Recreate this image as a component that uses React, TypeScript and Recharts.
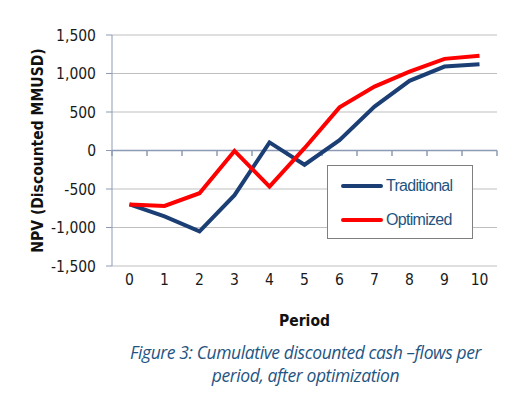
import {
  CartesianGrid,
  Legend,
  Line,
  LineChart,
  ReferenceLine,
  XAxis,
  YAxis,
} from 'recharts';

const periods = [0, 1, 2, 3, 4, 5, 6, 7, 8, 9, 10];
const traditional = [-700, -855, -1050, -580, 105, -185, 135, 570, 905, 1090, 1120];
const optimized = [-700, -720, -555, -5, -470, 30, 560, 830, 1025, 1190, 1230];
const yTicks = [-1500, -1000, -500, 0, 500, 1000, 1500];

const data = periods.map((p, i) => ({
  period: p,
  traditional: traditional[i],
  optimized: optimized[i],
}));

// Excel-style tick marks sit between categories
const boundaries = [...periods.map((p) => p - 0.5), periods[periods.length - 1] + 0.5];

const AXIS = '#8c9bb5';
const NAVY = '#1b3f74';
const RED = '#ff0000';
const TEXT_BLUE = '#1f5582';
const narrow = '"DejaVu Sans Condensed", "DejaVu Sans", sans-serif';

const tickStyle = { fontFamily: narrow, fontSize: 15.5, fill: '#1a1a1a', fontStretch: 'condensed' };
const titleStyle = {
  fontFamily: narrow,
  fontSize: 15.5,
  fontWeight: 'bold',
  fill: '#111',
  fontStretch: 'condensed',
};

const fmt = (v: number) => v.toLocaleString('en-US');

function LegendBox() {
  const items = [
    { name: 'Traditional', color: NAVY },
    { name: 'Optimized', color: RED },
  ];
  return (
    <div
      style={{
        width: 146,
        height: 74,
        background: '#fff',
        border: '1px solid #7f7f7f',
        boxSizing: 'border-box',
        paddingTop: 3,
      }}
    >
      {items.map((it) => (
        <div
          key={it.name}
          style={{ display: 'flex', alignItems: 'center', height: 34, paddingLeft: 13 }}
        >
          <div style={{ width: 42, height: 4, background: it.color, borderRadius: 2 }} />
          <span
            style={{
              marginLeft: 3,
              fontFamily: '"Liberation Sans", Arial, sans-serif',
              fontSize: 16,
              letterSpacing: -0.7,
              color: TEXT_BLUE,
            }}
          >
            {it.name}
          </span>
        </div>
      ))}
    </div>
  );
}

export default function App() {
  return (
    <div
      style={{
        position: 'absolute',
        left: 0,
        top: 0,
        width: 511,
        height: 397,
        background: '#fff',
      }}
    >
      <LineChart
        width={511}
        height={340}
        data={data}
        margin={{ top: 35, right: 14, left: 12, bottom: 8 }}
      >
        <CartesianGrid vertical={false} stroke="#bfbfbf" />
        <XAxis
          dataKey="period"
          type="number"
          domain={[-0.5, 10.5]}
          ticks={periods}
          interval={0}
          axisLine={false}
          tickLine={false}
          tickSize={6}
          tickMargin={2}
          height={66}
          tick={tickStyle}
          label={{
            value: 'Period',
            position: 'insideBottom',
            offset: 6,
            style: titleStyle,
          }}
        />
        <YAxis
          domain={[-1500, 1500]}
          ticks={yTicks}
          interval={0}
          width={100}
          stroke={AXIS}
          tickSize={6}
          tickMargin={10}
          tickFormatter={fmt}
          tick={tickStyle}
          label={{
            value: 'NPV (Discounted  MMUSD)',
            angle: -90,
            position: 'center',
            dx: -25,
            style: titleStyle,
          }}
        />
        <ReferenceLine y={0} stroke={AXIS} strokeWidth={1.5} />
        {boundaries.map((b) => (
          <ReferenceLine
            key={b}
            segment={[
              { x: b, y: 0 },
              { x: b, y: -70 },
            ]}
            stroke={AXIS}
            strokeWidth={1.5}
          />
        ))}
        <Line
          type="linear"
          dataKey="traditional"
          name="Traditional"
          stroke={NAVY}
          strokeWidth={4}
          dot={false}
          isAnimationActive={false}
        />
        <Line
          type="linear"
          dataKey="optimized"
          name="Optimized"
          stroke={RED}
          strokeWidth={4}
          dot={false}
          isAnimationActive={false}
        />
        <Legend
          layout="horizontal"
          verticalAlign="middle"
          align="center"
          content={<LegendBox />}
          wrapperStyle={{ left: 327, top: 165, width: 146, height: 74 }}
        />
      </LineChart>
      <div
        style={{
          position: 'absolute',
          left: 0,
          top: 341,
          width: 511,
          boxSizing: 'border-box',
          paddingLeft: 100,
          textAlign: 'center',
          fontFamily: '"Open Sans", Lato, sans-serif',
          fontStyle: 'italic',
          fontSize: 17.5,
          lineHeight: '23px',
          letterSpacing: -0.4,
          color: TEXT_BLUE,
          whiteSpace: 'nowrap',
        }}
      >
        Figure 3: Cumulative discounted cash –flows per
        <br />
        period, after optimization
      </div>
    </div>
  );
}
